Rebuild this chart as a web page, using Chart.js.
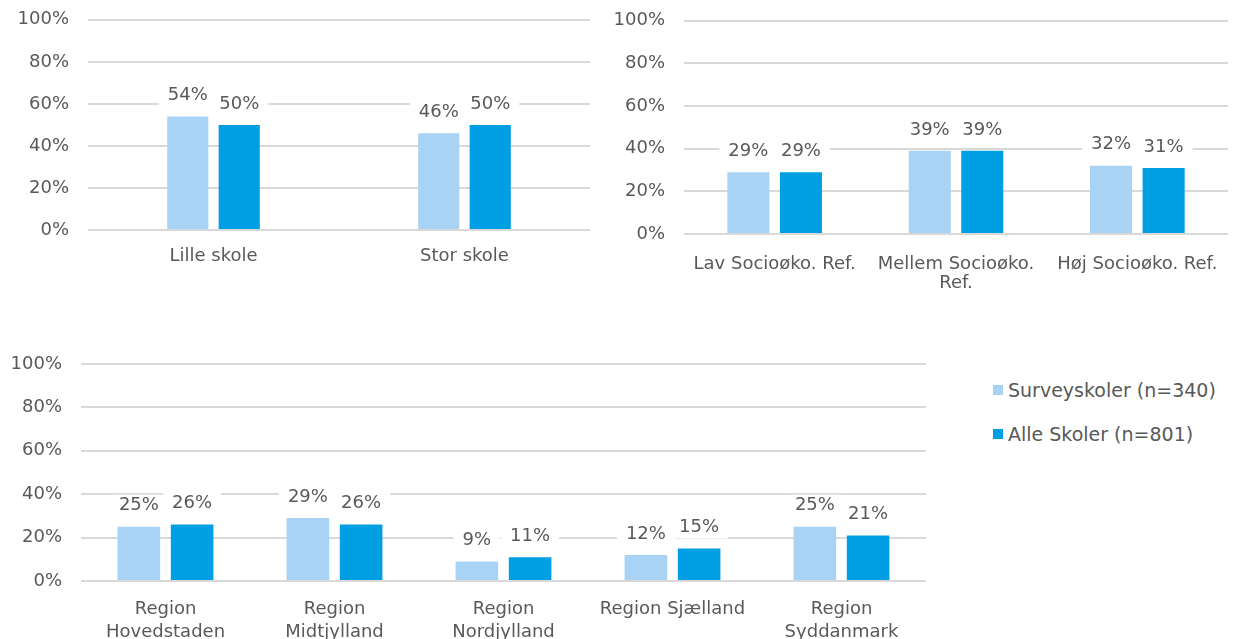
<!DOCTYPE html>
<html>
<head>
<meta charset="utf-8">
<script src="https://cdn.jsdelivr.net/npm/chart.js@4"></script>
<style>
  body { margin: 0; background: #fff; width: 1237px; height: 639px; overflow: hidden; position: relative; font-family: "DejaVu Sans", sans-serif; }
  canvas { position: absolute; }
  #legend { position: absolute; left: 993px; top: 378px; color: #595959; font-size: 19px; }
  .item { position: relative; height: 44px; line-height: 24px; padding-left: 15px; }
  .item span { position: absolute; left: 0; top: 7px; width: 10px; height: 10px; }
</style>
</head>
<body>
<canvas id="chart-size" width="600" height="310" style="left:0;top:-10px"></canvas>
<canvas id="chart-socio" width="637" height="309" style="left:600px;top:-9px"></canvas>
<canvas id="chart-region" width="940" height="309" style="left:0;top:330px"></canvas>
<div id="legend">
  <div class="item"><span style="background:#a9d3f5"></span>Surveyskoler (n=340)</div>
  <div class="item"><span style="background:#009fe3"></span>Alle Skoler (n=801)</div>
</div>
<script>
const seriesNames = ['Surveyskoler (n=340)', 'Alle Skoler (n=801)'];
const seriesColors = ['#a9d3f5', '#009fe3'];

const sizeLabels = ['Lille skole', 'Stor skole'];
const sizeSurvey = [54, 46];
const sizeAll = [50, 50];

const socioLabels = ['Lav Socioøko. Ref.', ['Mellem Socioøko.', 'Ref.'], 'Høj Socioøko. Ref.'];
const socioSurvey = [29, 39, 32];
const socioAll = [29, 39, 31];

const regionLabels = [['Region', 'Hovedstaden'], ['Region', 'Midtjylland'], ['Region', 'Nordjylland'], 'Region Sjælland', ['Region', 'Syddanmark']];
const regionSurvey = [25, 29, 9, 12, 25];
const regionAll = [26, 26, 11, 15, 21];

const yTicks = [0, 20, 40, 60, 80, 100];

const FONT = '"DejaVu Sans", sans-serif';
const TEXT = '#595959';

// value labels above each bar, on a white box that hides the gridline
const valueLabels = {
    id: 'valueLabels',
    afterDatasetsDraw(chart) {
        let ctx = chart.ctx;
        let items = [];
        chart.data.datasets.forEach((ds, i) => {
            chart.getDatasetMeta(i).data.forEach((bar, j) => {
                items.push({ x: bar.x, y: bar.y - 21, text: ds.data[j] + '%' });
            });
        });
        ctx.save();
        ctx.font = '18px ' + FONT;
        ctx.textAlign = 'center';
        ctx.textBaseline = 'middle';
        ctx.fillStyle = '#fff';
        items.forEach(it => {
            let w = ctx.measureText(it.text).width;
            ctx.fillRect(it.x - w / 2 - 9, it.y - 11, w + 18, 22);
        });
        ctx.fillStyle = TEXT;
        items.forEach(it => ctx.fillText(it.text, it.x, it.y));
        ctx.restore();
    }
};

function makeChart(id, labels, survey, all, cfg) {
    let ctx = document.getElementById(id).getContext('2d');
    return new Chart(ctx, {
        type: 'bar',
        data: {
            labels: labels,
            datasets: [
                { label: seriesNames[0], data: survey, backgroundColor: seriesColors[0],
                  categoryPercentage: cfg.catPct, barPercentage: 0.8 },
                { label: seriesNames[1], data: all, backgroundColor: seriesColors[1],
                  categoryPercentage: cfg.catPct, barPercentage: 0.8 }
            ]
        },
        options: {
            responsive: false,
            animation: false,
            layout: { padding: cfg.padding },
            plugins: { legend: { display: false }, tooltip: { enabled: false } },
            scales: {
                x: {
                    grid: { display: false },
                    border: { display: false },
                    ticks: {
                        color: TEXT, font: { family: FONT, size: 18, lineHeight: cfg.lineHeight },
                        padding: cfg.xPad, maxRotation: 0, autoSkip: false
                    },
                    afterFit: s => { s.height = cfg.xHeight; }
                },
                y: {
                    min: 0, max: 100,
                    afterBuildTicks: s => { s.ticks = yTicks.map(v => ({ value: v })); },
                    grid: { color: '#d9d9d9', lineWidth: 2, drawTicks: false },
                    border: { display: false },
                    ticks: {
                        color: TEXT, font: { family: FONT, size: 18 }, padding: 19,
                        callback: v => v + '%'
                    },
                    afterFit: s => { s.width = cfg.yWidth; }
                }
            }
        },
        plugins: [valueLabels]
    });
}

makeChart('chart-size', sizeLabels, sizeSurvey, sizeAll, {
    catPct: 0.41, padding: { top: 10, right: 10, left: 0, bottom: 0 },
    yWidth: 88, xHeight: 70, xPad: 8, lineHeight: 1.2
});
makeChart('chart-socio', socioLabels, socioSurvey, socioAll, {
    catPct: 0.58, padding: { top: 10, right: 9, left: 0, bottom: 0 },
    yWidth: 84, xHeight: 66, xPad: 12, lineHeight: 1.1
});
makeChart('chart-region', regionLabels, regionSurvey, regionAll, {
    catPct: 0.63, padding: { top: 34, right: 14, left: 0, bottom: 0 },
    yWidth: 81, xHeight: 58, xPad: 9, lineHeight: 1.28
});
</script>
</body>
</html>
